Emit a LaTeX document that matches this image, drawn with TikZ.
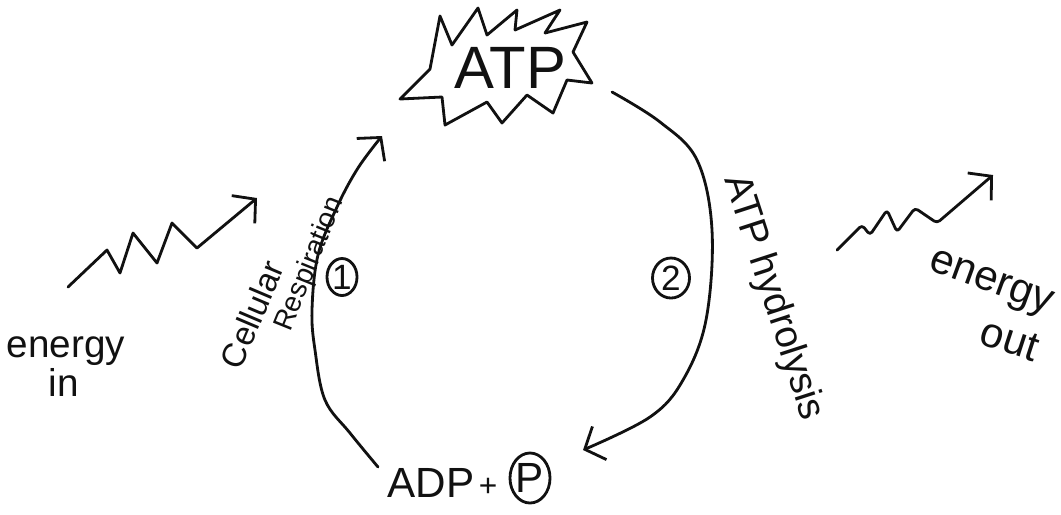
\documentclass[tikz,border=0pt]{standalone}
\usepackage{fontspec}
\setmainfont{Liberation Sans}
\usetikzlibrary{arrows.meta,shapes.geometric}
\definecolor{inkblack}{HTML}{111111}

\tikzset{
  ink/.style={draw=inkblack, line width=0.8pt, line cap=round, line join=round},
  note/.style={text=inkblack, inner sep=0pt, font=\fontsize{11}{12}\selectfont},
  stepmark/.style={ink, ellipse, inner sep=0pt, text=inkblack, font=\fontsize{10}{11}\selectfont},
}

\begin{document}
\begin{tikzpicture}[x=0.01cm, y=-0.01cm, >={Straight Barb[length=1.6mm, width=3.6mm]}]
  \useasboundingbox (0,0) rectangle (1061,514);
  % ATP burst
  \draw[ink] (400,99) -- (430,69) -- (440,16) -- (452,45) -- (478,8) -- (487,35) -- (517,10)
    -- (515,30) -- (560,10) -- (545,33) -- (587,22) -- (573,52) -- (592,83) -- (567,80)
    -- (553,113) -- (527,95) -- (502,123) -- (487,102) -- (445,125) -- (442,97) -- cycle;
  \node[note, font=\fontsize{17}{18}\selectfont] (atp) at (510,68) {ATP};
  % ADP + P
  \node[note, font=\fontsize{12}{13}\selectfont] (adp) at (431,483) {ADP};
  \node[note, font=\fontsize{9}{10}\selectfont] (plus) at (488,487) {+};
  \node[stepmark, minimum width=0.40cm, minimum height=0.50cm, font=\fontsize{12}{13}\selectfont] (pgrp) at (530,478) {P};
  % step numbers
  \node[stepmark, minimum width=0.30cm, minimum height=0.37cm] (one) at (342,277) {1};
  \node[stepmark, minimum width=0.37cm, minimum height=0.40cm] (two) at (671,278) {2};
  % cycle arcs
  \coordinate (resp-in) at (378,467);
  \coordinate (resp-out) at (382,136);
  \draw[ink, ->] plot[smooth, tension=0.6] coordinates {(resp-in) (350,433) (325,400) (315,350) (312,310) (318,255) (337,207) (358,168) (resp-out)};
  \coordinate (hyd-in) at (612,92);
  \coordinate (hyd-out) at (583,450);
  \draw[ink, ->] plot[smooth, tension=0.6] coordinates {(hyd-in) (660,122) (697,160) (712,230) (706,320) (683,380) (650,417) (hyd-out)};
  % energy zigzags
  \coordinate (in-tail) at (68,287);
  \coordinate (in-head) at (257,198);
  \draw[ink, ->] (in-tail) -- (107,250) -- (120,273) -- (133,233) -- (157,263) -- (172,223) -- (197,248) -- (in-head);
  \coordinate (out-tail) at (837,250);
  \coordinate (out-head) at (993,175);
  \draw[ink, ->, rounded corners=1pt] (out-tail) -- (862,225) -- (870,235) -- (887,210) -- (897,232) -- (915,208) -- (937,223) -- (out-head);
  % labels
  \node[note, anchor=base, rotate=67, font=\fontsize{9.5}{11}\selectfont] (cell) at (263,319) {Cellular};
  \node[note, anchor=base, rotate=68, font=\fontsize{8}{9}\selectfont] (resp) at (317,267) {Respiration};
  \node[note] (ein) at (66,351) {energy};
  \node[note] (inlab) at (64,382) {in};
  \node[note, rotate=-72] (hyd) at (773,298) {ATP hydrolysis};
  \node[note, rotate=-20, font=\fontsize{12}{13}\selectfont] (eout) at (990,285) {energy};
  \node[note, rotate=-18, font=\fontsize{12}{13}\selectfont] (outlab) at (1010,340) {out};
\end{tikzpicture}
\end{document}
